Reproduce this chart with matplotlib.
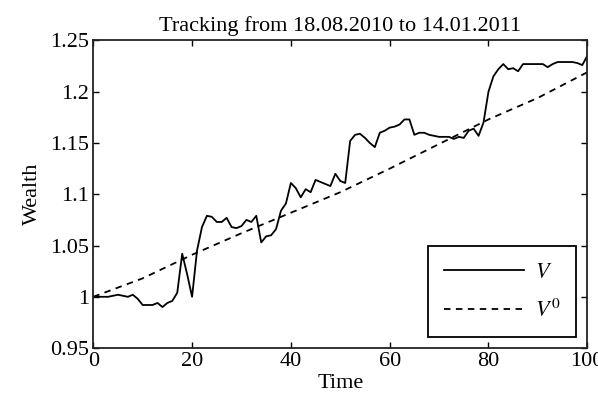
import numpy as np
import matplotlib
matplotlib.use("Agg")
import matplotlib.pyplot as plt
from matplotlib.ticker import FormatStrFormatter

plt.rcParams['font.family'] = ['Liberation Serif', 'DejaVu Serif']
plt.rcParams['mathtext.fontset'] = 'stix'

# portfolio wealth V at t = 0..100
time = np.arange(101)
wealth = [1.000, 1.000, 1.000, 1.000, 1.001, 1.002, 1.001, 1.000, 1.002, 0.998,
          0.992, 0.992, 0.992, 0.994, 0.990, 0.994, 0.996, 1.004, 1.042, 1.022,
          1.000, 1.045, 1.068, 1.079, 1.078, 1.073, 1.073, 1.077, 1.068, 1.067,
          1.069, 1.075, 1.073, 1.079, 1.053, 1.059, 1.060, 1.066, 1.084, 1.091,
          1.111, 1.106, 1.097, 1.105, 1.102, 1.114, 1.112, 1.110, 1.108, 1.120,
          1.113, 1.111, 1.152, 1.158, 1.159, 1.155, 1.150, 1.146, 1.160, 1.162,
          1.165, 1.166, 1.168, 1.173, 1.173, 1.158, 1.160, 1.160, 1.158, 1.157,
          1.156, 1.156, 1.156, 1.154, 1.156, 1.155, 1.162, 1.164, 1.157, 1.170,
          1.200, 1.215, 1.222, 1.227, 1.222, 1.223, 1.220, 1.227, 1.227, 1.227,
          1.227, 1.227, 1.224, 1.227, 1.229, 1.229, 1.229, 1.229, 1.228, 1.226,
          1.235]

# benchmark V^0
bench_t = [0, 10, 20, 30, 40, 50, 60, 70, 80, 90, 100]
bench = [1.000, 1.018, 1.041, 1.062, 1.082, 1.102, 1.125, 1.149, 1.173, 1.194, 1.219]

fig = plt.figure(figsize=(5.98, 4.09), dpi=100)
ax = fig.add_axes([0.156, 0.149, 0.826, 0.752])

ax.plot(time, wealth, color='black', lw=1.3, label='$V$')
ax.plot(bench_t, bench, color='black', lw=1.3, dashes=(3.6, 3.0), label='$V^0$')

ax.set_xlim(0, 100)
ax.set_ylim(0.95, 1.25)
ax.set_xticks([0, 20, 40, 60, 80, 100])
ax.set_yticks([0.95, 1.0, 1.05, 1.1, 1.15, 1.2, 1.25])
ax.yaxis.set_major_formatter(FormatStrFormatter('%g'))
ax.tick_params(direction='in', top=True, right=True, length=4, width=1,
               labelsize=16, pad=3)
for s in ax.spines.values():
    s.set_linewidth(1.3)
    s.set_color('#222222')

ax.set_title('Tracking from 18.08.2010 to 14.01.2011', fontsize=16, pad=7)
ax.set_xlabel('Time', fontsize=16, labelpad=2)
ax.set_ylabel('Wealth', fontsize=16, labelpad=6)

leg = ax.legend(loc='lower right', fontsize=16, fancybox=False, edgecolor='black',
                framealpha=1, handlelength=3.6, handletextpad=0.5,
                labelspacing=0.75, borderpad=0.7, borderaxespad=0.5)
leg.get_frame().set_linewidth(1.3)

fig.savefig('out.png', dpi=100)
